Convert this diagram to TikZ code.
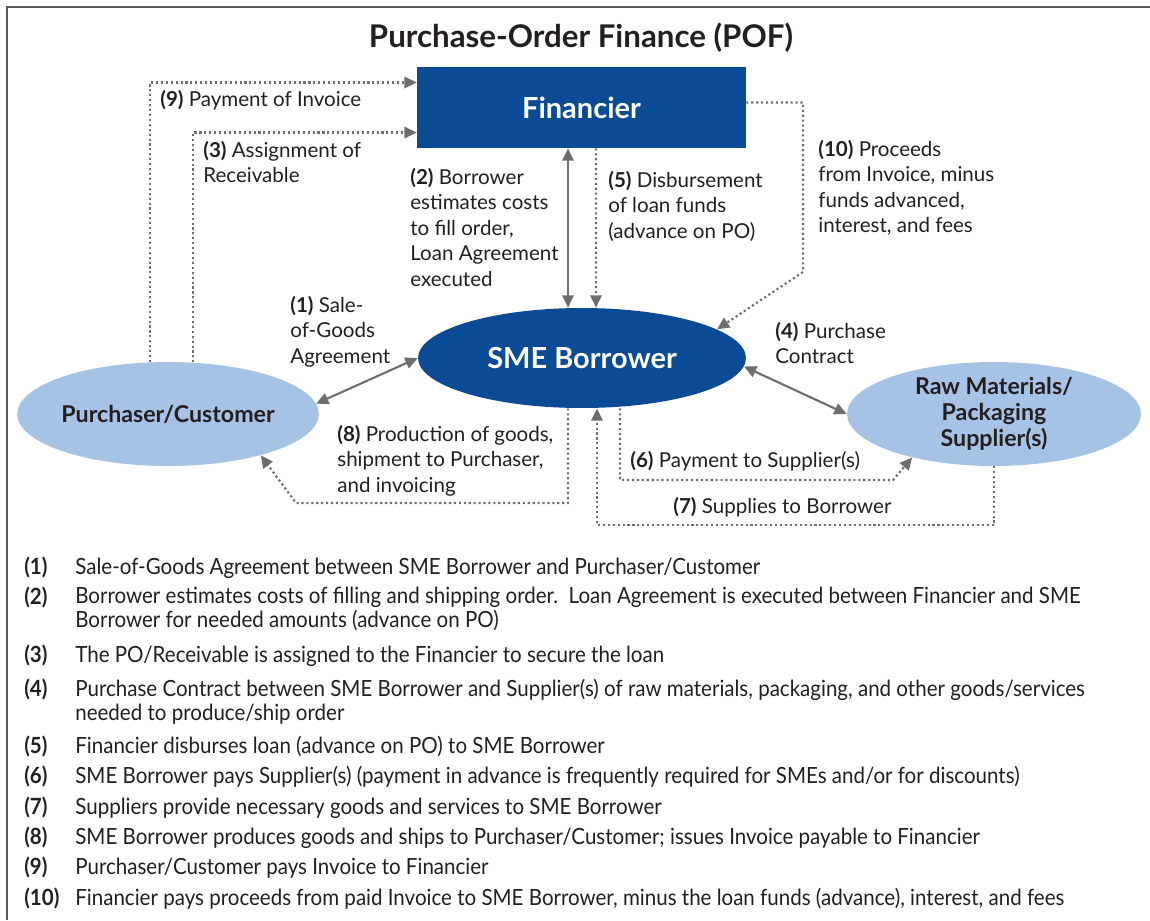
\documentclass[tikz,border=0pt]{standalone}
\usepackage{fontspec}
\setmainfont{Lato}
\newfontfamily\condfont[FakeStretch=0.92]{Lato}
\usetikzlibrary{arrows.meta,shapes.geometric,calc}
\definecolor{darkblue}{HTML}{0B4A94}
\definecolor{lightblue}{HTML}{A6C3E6}
\definecolor{arrowgray}{HTML}{6E6E6E}
\definecolor{textcol}{HTML}{231F20}
\definecolor{framecol}{HTML}{5A5A5A}
\begin{document}
\begin{tikzpicture}[x=0.02cm,y=-0.02cm,
  tip/.tip={Triangle[length=7pt,width=6.5pt]},
  dotline/.style={draw=arrowgray, line width=1.25pt, dash pattern=on 1.2pt off 1.6pt},
  solidline/.style={draw=arrowgray, line width=1.2pt},
  lbl/.style={anchor=north west, inner sep=0, align=left, text=textcol,
    font=\fontsize{11.7}{14.46}\selectfont, execute at begin node=\strut},
  leg/.style={anchor=north west, inner sep=0, align=left, text=textcol,
    font=\condfont\fontsize{12.7}{13.6}\selectfont, execute at begin node=\strut},
  legnum/.style={leg, font=\condfont\bfseries\fontsize{12.7}{13.6}\selectfont},
  dkellipse/.style={ellipse, fill=darkblue, inner sep=0, text=white,
    font=\bfseries\fontsize{16.5}{18}\selectfont},
  ltellipse/.style={ellipse, fill=lightblue, inner sep=0, text=textcol, align=center,
    font=\bfseries\fontsize{13.2}{14.7}\selectfont},
]
\useasboundingbox (0,0) rectangle (1150,920);
\draw[framecol, line width=1.2pt] (7,920) -- (7,7) -- (1150,7);

\node[text=textcol, font=\bfseries\fontsize{17.8}{20}\selectfont, anchor=base] (title) at (581,47) {Purchase-Order Finance (POF)};

\node[rectangle, fill=darkblue, minimum width=6.58cm, minimum height=1.62cm, inner sep=0,
  text=white, font=\bfseries\fontsize{16.5}{18}\selectfont] (fin) at (581.5,107.5) {Financier};
\node[dkellipse, minimum width=6.56cm, minimum height=2cm] (sme) at (582,358) {SME Borrower};
\node[ltellipse, minimum width=5.84cm, minimum height=2.08cm] (pc) at (168,414) {Purchaser/Customer};
\node[ltellipse, minimum width=5.88cm, minimum height=2.08cm] (raw) at (994,414) {Raw Materials/\\Packaging\\Supplier(s)};

% (9) and (3)
\draw[dotline, -tip] (pc.109) |- ($(fin.west)+(0,-25)$);
\draw[dotline, -tip] (pc.64) |- ($(fin.west)+(0,25)$);
% (2)
\draw[solidline, tip-tip] ($(fin.south)+(-13.5,0)$) -- ($(sme.north)+(-14,0)$);
% (5)
\draw[dotline, -tip] ($(fin.south)+(14.5,0)$) -- ($(sme.north)+(14,0)$);
% (10)
\coordinate (k10) at (803,272);
\draw[dotline, -tip] ($(fin.east)+(0,-5)$) -| (k10) -- (sme.12);
% (1)
\draw[solidline, tip-tip] (pc.4) -- (sme.west);
% (4)
\draw[solidline, tip-tip] (sme.-3) -- (raw.180);
% (8)
\coordinate (k8a) at (568,503);
\coordinate (k8b) at (296,503);
\draw[dotline, -tip] ($(sme.south)+(-14,0)$) -- (k8a) -- (k8b) -- (pc.-24);
% (6)
\coordinate (k6a) at (620,480);
\coordinate (k6b) at (893,480);
\draw[dotline, -tip] ($(sme.south)+(38,0)$) -- (k6a) -- (k6b) -- (raw.208);
% (7)
\coordinate (k7a) at (994,525);
\coordinate (k7b) at (597,525);
\draw[dotline, -tip] (raw.south) -- (k7a) -- (k7b) -- ($(sme.south)+(15,0)$);

% labels
\node[lbl] (l9) at (160,88) {\textbf{(9)} Payment of Invoice};
\node[lbl] (l3) at (203,141) {\textbf{(3)} Assignment of\\Receivable};
\node[lbl] (l2) at (410,168) {\textbf{(2)} Borrower\\estimates costs\\to fill order,\\Loan Agreement\\executed};
\node[lbl] (l5) at (608,171) {\textbf{(5)} Disbursement\\of loan funds\\(advance on PO)};
\node[lbl] (l10) at (818,140) {\textbf{(10)} Proceeds\\from Invoice, minus\\funds advanced,\\interest, and fees};
\node[lbl] (l1) at (290,296) {\textbf{(1)} Sale-\\of-Goods\\Agreement};
\node[lbl] (l4) at (775,322) {\textbf{(4)} Purchase\\Contract};
\node[lbl] (l8) at (337,425) {\textbf{(8)} Production of goods,\\shipment to Purchaser,\\and invoicing};
\node[lbl] (l6) at (630,449) {\textbf{(6)} Payment to Supplier(s)};
\node[lbl] (l7) at (673,495) {\textbf{(7)} Supplies to Borrower};

% legend
\node[legnum] (n1) at (24,557) {(1)};
\node[leg] (t1) at (75,557) {Sale-of-Goods Agreement between SME Borrower and Purchaser/Customer};
\node[legnum] (n2) at (24,587) {(2)};
\node[leg] (t2) at (75,587) {Borrower estimates costs of filling and shipping order.\ \ Loan Agreement is executed between Financier and SME\\Borrower for needed amounts (advance on PO)};
\node[legnum] (n3) at (24,645) {(3)};
\node[leg] (t3) at (75,645) {The PO/Receivable is assigned to the Financier to secure the loan};
\node[legnum] (n4) at (24,679) {(4)};
\node[leg] (t4) at (75,679) {Purchase Contract between SME Borrower and Supplier(s) of raw materials, packaging, and other goods/services\\needed to produce/ship order};
\node[legnum] (n5) at (24,736) {(5)};
\node[leg] (t5) at (75,736) {Financier disburses loan (advance on PO) to SME Borrower};
\node[legnum] (n6) at (24,766) {(6)};
\node[leg] (t6) at (75,766) {SME Borrower pays Supplier(s) (payment in advance is frequently required for SMEs and/or for discounts)};
\node[legnum] (n7) at (24,797) {(7)};
\node[leg] (t7) at (75,797) {Suppliers provide necessary goods and services to SME Borrower};
\node[legnum] (n8) at (24,827) {(8)};
\node[leg] (t8) at (75,827) {SME Borrower produces goods and ships to Purchaser/Customer; issues Invoice payable to Financier};
\node[legnum] (n9) at (24,857) {(9)};
\node[leg] (t9) at (75,857) {Purchaser/Customer pays Invoice to Financier};
\node[legnum] (n10) at (24,888) {(10)};
\node[leg] (t10) at (75,888) {Financier pays proceeds from paid Invoice to SME Borrower, minus the loan funds (advance), interest, and fees};
\end{tikzpicture}
\end{document}
